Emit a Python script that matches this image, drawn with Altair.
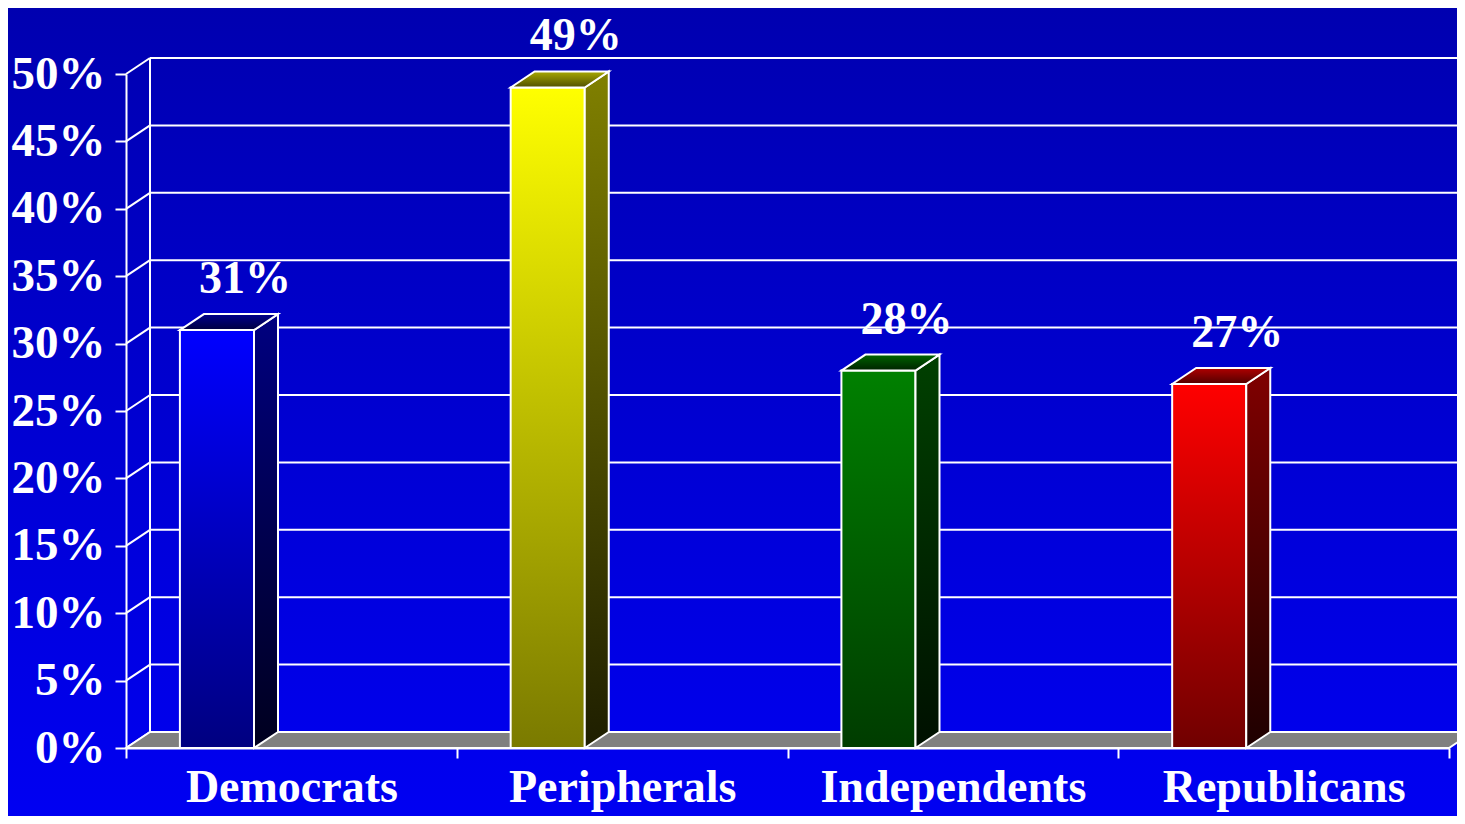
import json
import altair as alt
import pandas as pd

# ---------------- data ----------------
categories = ["Democrats", "Peripherals", "Independents", "Republicans"]
values = [31, 49, 28, 27]
value_labels = ["31%", "49%", "28%", "27%"]
y_ticks = [0, 5, 10, 15, 20, 25, 30, 35, 40, 45, 50]

front_colors = [("#0000FF", "#000080"), ("#FFFF00", "#7A7A00"),
                ("#008000", "#003C00"), ("#FF0000", "#700000")]
side_colors = [("#000080", "#00001E"), ("#808000", "#1E1E00"),
               ("#004000", "#001000"), ("#800000", "#1E0000")]
top_colors = [("#00008C", "#000040"), ("#A8A800", "#505000"),
              ("#006400", "#002200"), ("#B00000", "#500000")]

# ---------------- geometry (style) ----------------
W, H = 1323, 674
PAD = {"left": 118, "top": 66, "right": 8, "bottom": 68}
NB = len(categories)
DX = 24 / (W / NB)        # depth offset in band units
DY = 16 / (H / 50)        # depth offset in percent units
BAR_L, BAR_R = 0.163, 0.387
LABEL_X = 0.36
FONT = "Liberation Serif"

xs = alt.Scale(domain=[0, NB], nice=False, zero=False)
ys = alt.Scale(domain=[0, 50], nice=False, zero=False)

x_axis = alt.Axis(values=list(range(NB + 1)),
                  labelExpr=json.dumps(categories) + "[datum.value] || ''",
                  labelOffset=(W / NB) / 2, labelAlign="center", labelFlush=False,
                  labelOverlap=False, labelBound=False, labelLimit=0,
                  grid=False, domainColor="white", domainWidth=2,
                  tickColor="white", tickWidth=2, tickSize=10,
                  labelColor="white", labelFont=FONT, labelFontSize=46,
                  labelFontWeight="bold", labelPadding=7, zindex=1)
y_axis = alt.Axis(values=y_ticks, labelExpr="datum.value + '%'",
                  grid=False, domainColor="white", domainWidth=2,
                  tickColor="white", tickWidth=2, tickSize=11,
                  labelColor="white", labelFont=FONT, labelFontSize=47,
                  labelFontWeight="bold", labelPadding=10, labelOverlap=False,
                  labelFlush=False, labelBound=False, labelLimit=0, zindex=1)


def X(f):
    return alt.X(f, type="quantitative", scale=xs, axis=x_axis, title=None)


def Y(f):
    return alt.Y(f, type="quantitative", scale=ys, axis=y_axis, title=None)


def grad(c1, c2):
    return alt.LinearGradient(gradient="linear", x1=0, y1=0, x2=0, y2=1,
                              stops=[alt.GradientStop(color=c1, offset=0),
                                     alt.GradientStop(color=c2, offset=1)])


layers = []

# background
bg = alt.Chart(pd.DataFrame({"a": [0]})).mark_rect(
    color=grad("#0000B0", "#0000F2")).encode(
    x=alt.value(-PAD["left"]), x2=alt.value(W + PAD["right"]),
    y=alt.value(-PAD["top"]), y2=alt.value(H + PAD["bottom"]))
layers.append(bg)

# back wall gridlines
grid_df = pd.DataFrame({"x": [DX] * len(y_ticks), "x2": [NB + DX + 0.2] * len(y_ticks),
                        "y": [v + DY for v in y_ticks]})
layers.append(alt.Chart(grid_df).mark_rule(color="white", strokeWidth=2).encode(
    x=X("x"), x2="x2", y=Y("y")))

# diagonal connectors from front axis to back wall
diag_df = pd.DataFrame({"x": [0.0] * len(y_ticks), "x2": [DX] * len(y_ticks),
                        "y": y_ticks, "y2": [v + DY for v in y_ticks]})
layers.append(alt.Chart(diag_df).mark_rule(color="white", strokeWidth=2).encode(
    x=X("x"), x2="x2", y=Y("y"), y2="y2"))

# back wall left edge
wall_df = pd.DataFrame({"x": [DX], "y": [DY], "y2": [y_ticks[-1] + DY]})
layers.append(alt.Chart(wall_df).mark_rule(color="white", strokeWidth=2).encode(
    x=X("x"), y=Y("y"), y2="y2"))

# floor
floor_df = pd.DataFrame({"x": [0, DX, NB, NB + DX],
                         "y": [0, DY, DY, DY],
                         "y2": [0, 0, 0, DY]})
layers.append(alt.Chart(floor_df).mark_area(
    fill="#808080", stroke="white", strokeWidth=2, orient="vertical").encode(
    x=X("x"), y=Y("y"), y2="y2"))

# bars
for i, v in enumerate(values):
    x0, x1 = i + BAR_L, i + BAR_R
    front = pd.DataFrame({"x": [x0], "x2": [x1], "y": [v], "y2": [0]})
    layers.append(alt.Chart(front).mark_rect(
        color=grad(*front_colors[i]), stroke="white", strokeWidth=2).encode(
        x=X("x"), x2="x2", y=Y("y"), y2="y2"))
    side = pd.DataFrame({"x": [x1, x1 + DX], "y": [v, v + DY], "y2": [0, DY]})
    layers.append(alt.Chart(side).mark_area(
        color=grad(*side_colors[i]), stroke="white", strokeWidth=2,
        orient="vertical").encode(x=X("x"), y=Y("y"), y2="y2"))
    top = pd.DataFrame({"x": [x0, x0 + DX, x1, x1 + DX],
                        "y": [v, v + DY, v + DY, v + DY],
                        "y2": [v, v, v, v + DY]})
    layers.append(alt.Chart(top).mark_area(
        color=grad(*top_colors[i]), stroke="white", strokeWidth=2,
        orient="vertical").encode(x=X("x"), y=Y("y"), y2="y2"))

# value labels
lab_df = pd.DataFrame({"x": [i + LABEL_X for i in range(NB)],
                       "y": [v + DY for v in values], "t": value_labels})
layers.append(alt.Chart(lab_df).mark_text(
    font=FONT, fontSize=46, fontWeight="bold", color="white",
    align="center", baseline="alphabetic", dy=-21).encode(
    x=X("x"), y=Y("y"), text="t"))

chart = alt.layer(*layers).properties(
    width=W, height=H,
    autosize=alt.AutoSizeParams(type="none"),
    padding=PAD,
    background="#0000C8",
).configure_view(stroke=None)

chart.save("out.html", embed_options={"renderer": "svg", "actions": False})
